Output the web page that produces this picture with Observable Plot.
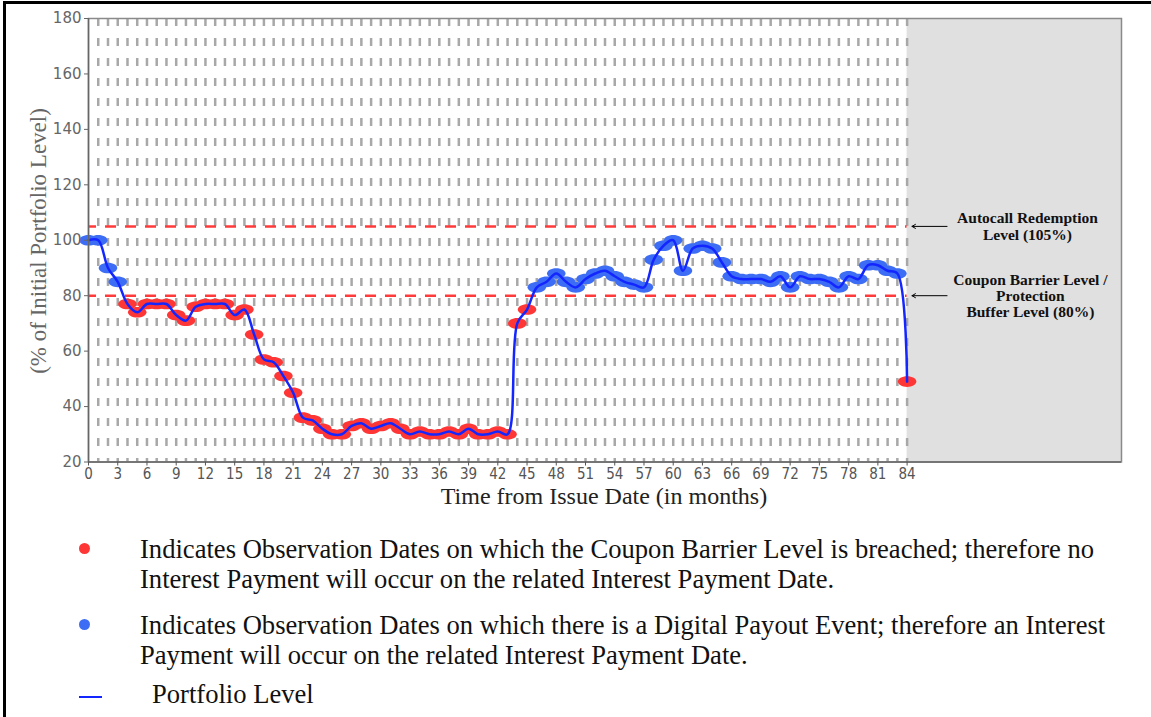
<!DOCTYPE html>
<html><head><meta charset="utf-8">
<script src="https://cdn.jsdelivr.net/npm/d3@7"></script>
<script src="https://cdn.jsdelivr.net/npm/@observablehq/plot@0.6"></script>
<style>
html,body{margin:0;padding:0;background:#fff;}
body{width:1151px;height:717px;overflow:hidden;position:relative;}
#frame{position:absolute;left:3px;top:1px;width:1200px;height:800px;border-top:3px solid #000;border-left:3px solid #000;}
#chart{position:absolute;left:0;top:0;}
.leg{position:absolute;font-family:"Liberation Serif","Times New Roman",serif;font-size:26.6px;line-height:30px;color:#111;white-space:nowrap;}
.dot{position:absolute;width:11px;height:11px;border-radius:50%;}
</style></head><body>
<div id="frame"></div>
<div id="chart"></div>
<div id="legend"></div>
<script>
// ---- data ----
const months = [0,1,2,3,4,5,6,7,8,9,10,11,12,13,14,15,16,17,18,19,20,21,22,23,24,25,26,27,28,29,30,31,32,33,34,35,36,37,38,39,40,41,42,43,44,45,46,47,48,49,50,51,52,53,54,55,56,57,58,59,60,61,62,63,64,65,66,67,68,69,70,71,72,73,74,75,76,77,78,79,80,81,82,83,84];
const levels = [100,100,90,85,77,74,77,77,77,73,71,76,77,77,77,73,75,66,57,56,51,45,36,35,32,30,30,33,34,32,33,34,32,30,31,30,30,31,30,32,30,30,31,30,70,75,83,85,88,85,83,86,88,89,87,85,84,83,93,98,100,89,97,98,97,92,87,86,86,86,85,87,83,87,86,86,85,83,87,86,91,91,89,88,49];
const xTickLabels = [0,3,6,9,12,15,18,21,24,27,30,33,36,39,42,45,48,51,54,57,60,63,66,69,72,75,78,81,84];
const yTickLabels = [20,40,60,80,100,120,140,160,180];
const barrierLevel = 80;
const autocallLevel = 105;
const maturityMonth = 84;
const xMax = 106;
const annotations = [
  {level: 105, text: "Autocall Redemption\nLevel (105%)"},
  {level: 80, text: "Coupon Barrier Level /\nProtection\nBuffer Level (80%)"}
];
const xTitle = "Time from Issue Date (in months)";
const yTitle = "(% of Initial Portfolio Level)";
const legendItems = [
  {type: "red", text: "Indicates Observation Dates on which the Coupon Barrier Level is breached; therefore no<br>Interest Payment will occur on the related Interest Payment Date."},
  {type: "blue", text: "Indicates Observation Dates on which there is a Digital Payout Event; therefore an Interest<br>Payment will occur on the related Interest Payment Date."},
  {type: "line", text: "Portfolio Level"}
];

const RED = "#ff3636", BLUE = "#3d6df4", LINE = "#1426ff";
const data = months.map((m, i) => ({month: m, level: levels[i], breached: levels[i] < barrierLevel}));

const ellipse = {
  draw(ctx, size) {
    const r = Math.sqrt(size / Math.PI), rx = r * 1.75, ry = r, k = 0.5523;
    ctx.moveTo(rx, 0);
    ctx.bezierCurveTo(rx, ry * k, rx * k, ry, 0, ry);
    ctx.bezierCurveTo(-rx * k, ry, -rx, ry * k, -rx, 0);
    ctx.bezierCurveTo(-rx, -ry * k, -rx * k, -ry, 0, -ry);
    ctx.bezierCurveTo(rx * k, -ry, rx, -ry * k, rx, 0);
    ctx.closePath();
  }
};

const W = 1151, H = 520;
const svg = Plot.plot({
  width: W, height: H,
  marginLeft: 88, marginRight: 30, marginTop: 18, marginBottom: 58.5,
  style: {background: "transparent", overflow: "visible"},
  x: {domain: [0, xMax], axis: null},
  y: {domain: [20, 180], axis: null},
  marks: [
    Plot.rect([{x1: maturityMonth, x2: xMax}], {x1: "x1", x2: "x2", y1: 20, y2: 180, fill: "#e0e0e0"}),
    Plot.ruleX(months.filter(m => m > 0), {x: d => d, y1: 180, y2: 20, stroke: "#a8a8a8", strokeWidth: 2.5, strokeDasharray: "8,12"}),
    Plot.ruleY([barrierLevel, autocallLevel], {y: d => d, x1: 0, x2: maturityMonth, stroke: "#ff3a3a", strokeWidth: 2.5, strokeDasharray: "11,9", strokeDashoffset: 3}),
    Plot.dot(data.filter(d => d.breached), {x: "month", y: "level", r: 5.3, symbol: ellipse, fill: RED, stroke: "none"}),
    Plot.dot(data.filter(d => !d.breached), {x: "month", y: "level", r: 5.3, symbol: ellipse, fill: BLUE, stroke: "none"}),
    Plot.line(data, {x: "month", y: "level", curve: "catmull-rom", stroke: LINE, strokeWidth: 2.5}),
    Plot.frame({stroke: "#8a8a8a", strokeWidth: 1.5}),
    Plot.ruleX([0], {stroke: "#666", strokeWidth: 1.5}),
    Plot.ruleY([20], {stroke: "#666", strokeWidth: 1.5, x1: 0, x2: xMax}),
    Plot.axisY(yTickLabels, {ticks: yTickLabels, tickSize: 4, tickPadding: 3, fontSize: 15, fontFamily: "DejaVu Sans", color: "#666", label: null}),
    Plot.axisX(xTickLabels, {ticks: xTickLabels, tickSize: 4, tickPadding: 2, fontSize: 15, fontFamily: "'DejaVu Sans Condensed','DejaVu Sans'", color: "#555", label: null}),
    Plot.arrow(annotations, {x1: 88.1, x2: 84.5, y1: "level", y2: "level", stroke: "#000", strokeWidth: 1, headLength: 6}),
    Plot.text([annotations[0]], {x: 96.35, y: "level", text: "text", fontFamily: "'Liberation Serif',serif", fontWeight: "bold", fontSize: 15.5, lineHeight: 1.06, fill: "#111"}),
    Plot.text([annotations[1]], {x: 96.65, y: "level", text: "text", fontFamily: "'Liberation Serif',serif", fontWeight: "bold", fontSize: 15.5, lineHeight: 1.06, fill: "#111"})
  ]
});
const s = d3.select(svg);
s.append("text").attr("x", 604).attr("y", 504).attr("text-anchor", "middle")
  .style("font-family", "'Liberation Serif',serif").style("font-size", "24px").attr("fill", "#222").text(xTitle);
s.append("text").attr("transform", "translate(46,241) rotate(-90)").attr("text-anchor", "middle")
  .style("font-family", "'Liberation Serif',serif").style("font-size", "23px").attr("fill", "#666").text(yTitle);
document.getElementById("chart").appendChild(svg);

// ---- legend ----
const leg = document.getElementById("legend");
const tops = [534, 610, 679];
legendItems.forEach((it, i) => {
  const t = tops[i];
  if (it.type === "line") {
    const l = document.createElement("div");
    l.style.cssText = `position:absolute;left:79px;top:${t + 17}px;width:23px;height:2px;background:${LINE};`;
    leg.appendChild(l);
  } else {
    const d = document.createElement("div");
    d.className = "dot";
    d.style.cssText += `left:79px;top:${t + 9}px;background:${it.type === "red" ? RED : BLUE};`;
    leg.appendChild(d);
  }
  const tx = document.createElement("div");
  tx.className = "leg";
  tx.style.left = (it.type === "line" ? 152 : 140) + "px";
  tx.style.top = t + "px";
  tx.innerHTML = it.text;
  leg.appendChild(tx);
});
</script>
</body></html>
